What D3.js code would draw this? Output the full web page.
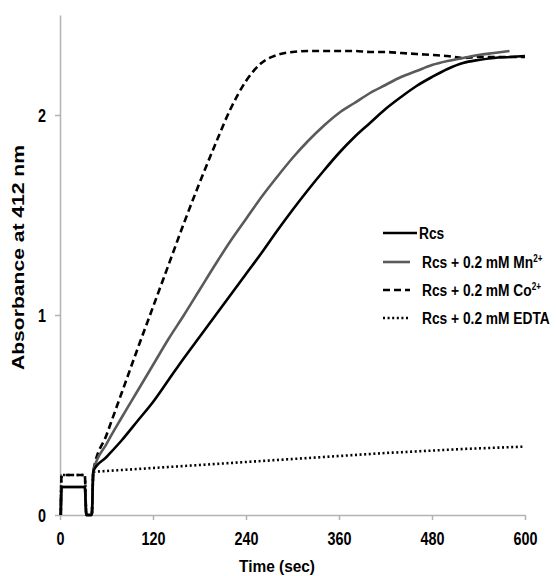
<!DOCTYPE html>
<html>
<head>
<meta charset="utf-8">
<script src="https://cdn.jsdelivr.net/npm/d3@7"></script>
<style>
  html, body { margin: 0; padding: 0; background: #fff; }
  svg { display: block; }
</style>
</head>
<body>
<div id="chart"></div>
<script>
// sample times (sec), shared by all four traces
const times = [1, 2, 32, 34, 41, 43, 60, 80, 100, 120, 140, 160, 180, 200, 220, 240, 260, 280, 300,
  320, 340, 360, 380, 400, 420, 440, 460, 480, 500, 520, 540, 560, 580, 600];

const rcs = [0, 0.14, 0.14, 0, 0, 0.22, 0.29, 0.375, 0.47, 0.565, 0.675, 0.785, 0.89, 0.995, 1.10, 1.205,
  1.31, 1.42, 1.525, 1.625, 1.72, 1.81, 1.89, 1.96, 2.03, 2.09, 2.145, 2.19, 2.23, 2.26, 2.275, 2.285, 2.29, 2.295];
const rcsMn = [0, 0.14, 0.14, 0, 0, 0.22, 0.355, 0.49, 0.62, 0.75, 0.88, 1.00, 1.125, 1.25, 1.37, 1.48,
  1.59, 1.69, 1.785, 1.87, 1.945, 2.01, 2.06, 2.11, 2.15, 2.19, 2.22, 2.25, 2.27, 2.285, 2.30, 2.31, 2.32, null];
const rcsCo = [0, 0.20, 0.20, 0, 0, 0.22, 0.40, 0.615, 0.83, 1.04, 1.25, 1.46, 1.66, 1.85, 2.03, 2.17,
  2.26, 2.30, 2.315, 2.32, 2.32, 2.32, 2.32, 2.315, 2.315, 2.31, 2.305, 2.30, 2.295, 2.285, 2.29, 2.29, 2.29, 2.29];
const rcsEdta = [0, 0.20, 0.20, 0, 0, 0.215, 0.22, 0.225, 0.23, 0.235, 0.24, 0.245, 0.25, 0.255, 0.26, 0.265,
  0.27, 0.275, 0.28, 0.285, 0.29, 0.295, 0.30, 0.305, 0.31, 0.314, 0.318, 0.322, 0.326, 0.33, 0.333, 0.336, 0.339, 0.342];

const xTicks = [0, 120, 240, 360, 480, 600];
const yTicks = [0, 1, 2];

const series = [
  { name: 'Rcs', sup: '', values: rcs, color: '#000', dash: null, legLen: 34 },
  { name: 'Rcs + 0.2 mM Mn', sup: '2+', values: rcsMn, color: '#5a5a5a', dash: null, legLen: 27 },
  { name: 'Rcs + 0.2 mM Co', sup: '2+', values: rcsCo, color: '#000', dash: '7,4', legLen: 27 },
  { name: 'Rcs + 0.2 mM EDTA', sup: '', values: rcsEdta, color: '#000', dash: '2,2.6', legLen: 27 }
];

const width = 556, height = 576;
const margin = { top: 15, right: 31, bottom: 61, left: 60 };
const font = '"Liberation Sans", Arial, sans-serif';
const axisColor = '#b3b3b3';
const narrow = 0.81; // the original lettering is condensed

const svg = d3.select('#chart').append('svg')
  .attr('width', width)
  .attr('height', height);

const x = d3.scaleLinear().domain([0, 600]).range([margin.left, width - margin.right]);
const y = d3.scaleLinear().domain([0, 2.5]).range([height - margin.bottom, margin.top]);

// axes
const gx = svg.append('g')
  .attr('transform', `translate(0,${y(0)})`)
  .call(d3.axisBottom(x).tickValues(xTicks).tickFormat(d3.format('d')).tickSize(5).tickPadding(12).tickSizeOuter(0));
const gy = svg.append('g')
  .attr('transform', `translate(${x(0)},0)`)
  .call(d3.axisLeft(y).tickValues(yTicks).tickFormat(d3.format('d')).tickSize(5).tickPadding(9).tickSizeOuter(0));

[gx, gy].forEach(g => {
  g.selectAll('path, line').style('stroke', axisColor).style('stroke-width', 1.5);
  g.selectAll('text').style('fill', '#000').style('font-family', font)
    .style('font-size', '18px').style('font-weight', 'bold')
    .attr('textLength', d => String(d).length * 8)
    .attr('lengthAdjust', 'spacingAndGlyphs');
});
gy.selectAll('text').attr('dy', '0.36em');

// axis titles
svg.append('text')
  .attr('x', x(280))
  .attr('y', 572)
  .attr('text-anchor', 'middle')
  .attr('textLength', 76)
  .attr('lengthAdjust', 'spacingAndGlyphs')
  .style('font-family', font).style('font-size', '17px').style('font-weight', 'bold')
  .text('Time (sec)');

svg.append('text')
  .attr('transform', `translate(24,${(145 + 370) / 2}) rotate(-90)`)
  .attr('text-anchor', 'middle')
  .attr('textLength', 225)
  .attr('lengthAdjust', 'spacingAndGlyphs')
  .style('font-family', font).style('font-size', '16px').style('font-weight', 'bold')
  .text('Absorbance at 412 nm');

// traces
const line = d3.line()
  .defined(d => d[1] != null)
  .curve(d3.curveMonotoneX)
  .x(d => x(d[0]))
  .y(d => y(d[1]));

const gLines = svg.append('g').attr('class', 'lines');
series.slice().reverse().forEach(s => {
  gLines.append('path')
    .datum(times.map((t, i) => [t, s.values[i]]))
    .attr('d', line)
    .attr('fill', 'none')
    .attr('stroke', s.color)
    .attr('stroke-width', 2.6)
    .attr('stroke-linejoin', 'round')
    .attr('stroke-dasharray', s.dash);
});

// legend
const legend = svg.append('g').attr('class', 'legend');
const legY = [233, 262, 290, 318];
series.forEach((s, i) => {
  const row = legend.append('g').attr('transform', `translate(383,${legY[i]})`);
  row.append('line')
    .attr('x1', 0).attr('x2', s.legLen)
    .attr('y1', 0).attr('y2', 0)
    .attr('stroke', s.color)
    .attr('stroke-width', 2.6)
    .attr('stroke-dasharray', s.dash);
  const txt = row.append('g')
    .attr('transform', `translate(${i === 0 ? 36 : 39},0) scale(${narrow},1)`)
    .append('text')
    .attr('y', 6)
    .style('font-family', font).style('font-size', '17px').style('font-weight', 'bold');
  txt.append('tspan').text(s.name);
  if (s.sup) {
    txt.append('tspan').attr('dy', -6.5).style('font-size', '10px').text(s.sup);
  }
});
</script>
</body>
</html>
